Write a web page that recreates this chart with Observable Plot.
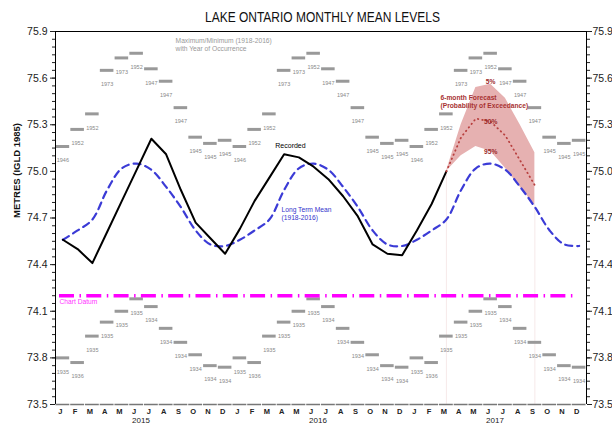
<!DOCTYPE html>
<html><head><meta charset="utf-8">
<script src="https://cdn.jsdelivr.net/npm/d3@7"></script>
<script src="https://cdn.jsdelivr.net/npm/@observablehq/plot@0.6"></script>
<style>body{margin:0;background:#fff} svg{display:block}</style>
</head><body><div id="chart"></div>
<script>
const titleText = "LAKE ONTARIO MONTHLY MEAN LEVELS";
const monthLetters = ["J","F","M","A","M","J","J","A","S","O","N","D"];
const years = ["2015","2016","2017"];
const maxLevel = [75.16, 75.27, 75.37, 75.65, 75.73, 75.76, 75.66, 75.58, 75.41, 75.22, 75.18, 75.20];
const maxYear  = [1946, 1952, 1952, 1973, 1973, 1952, 1947, 1947, 1947, 1945, 1945, 1945];
const minLevel = [73.80, 73.77, 73.94, 74.03, 74.10, 74.18, 74.13, 73.99, 73.90, 73.82, 73.75, 73.74];
const minYear  = [1935, 1936, 1935, 1935, 1935, 1935, 1934, 1934, 1934, 1934, 1934, 1934];
const meanLevel = [74.56, 74.62, 74.69, 74.88, 75.02, 75.05, 75.01, 74.90, 74.77, 74.62, 74.53, 74.52];
const recorded = [74.56, 74.50, 74.41, 74.61, 74.81, 75.01, 75.21, 75.11, 74.88, 74.67, 74.57, 74.47,
                  74.63, 74.81, 74.96, 75.11, 75.09, 75.03, 74.95, 74.84, 74.71, 74.53, 74.47, 74.46,
                  74.62, 74.79, 75.00];
const forecastUpper  = [75.00, 75.30, 75.54, 75.56, 75.47, 75.30, 75.12];
const forecastMedian = [75.00, 75.22, 75.34, 75.32, 75.23, 75.07, 74.91];
const forecastLower  = [75.00, 75.10, 75.16, 75.13, 75.02, 74.90, 74.78];
const forecastLabels = ["5%", "50%", "95%"];
const forecastStart = 26;
const chartDatum = 74.2;
const yTicks = [73.5, 73.8, 74.1, 74.4, 74.7, 75.0, 75.3, 75.6, 75.9];
const minorTicks = d3.range(0, 49).map(k => 73.5 + k * 0.05);

const idx = d3.range(36);
const climate = idx.map(i => ({i, max: maxLevel[i % 12], maxYr: String(maxYear[i % 12]),
  min: minLevel[i % 12], minYr: String(minYear[i % 12]), mean: meanLevel[i % 12]}));
const rec = recorded.map((v, i) => ({i, v}));
const fc = forecastUpper.map((u, k) => ({i: forecastStart + k, hi: u, mid: forecastMedian[k], lo: forecastLower[k]}));
const peak = fc[3];

const font = "'Liberation Sans', Arial, sans-serif";
const chart = Plot.plot({
  width: 612, height: 424,
  marginTop: 31, marginBottom: 20, marginLeft: 55, marginRight: 26,
  style: {fontFamily: font, background: "#fff", color: "#222"},
  x: {type: "linear", domain: [-0.5, 35.5]},
  y: {domain: [73.5, 75.9]},
  marks: [
    Plot.ruleX([fc[0], fc[fc.length - 1]], {x: "i", y1: 73.5, y2: "lo", stroke: "#f6e9e9", strokeWidth: 1}),
    Plot.areaY(fc, {x: "i", y1: "lo", y2: "hi", fill: "#e6b1b1"}),
    Plot.ruleY(climate, {y: "max", x1: d => d.i - 0.46, x2: d => d.i + 0.46, stroke: "#999", strokeWidth: 3}),
    Plot.text(climate, {x: "i", y: "max", text: "maxYr", dy: 14, fontSize: 5.5, fill: "#888"}),
    Plot.ruleY(climate, {y: "min", x1: d => d.i - 0.46, x2: d => d.i + 0.46, stroke: "#999", strokeWidth: 3}),
    Plot.text(climate, {x: "i", y: "min", text: "minYr", dy: 14, fontSize: 5.5, fill: "#888"}),
    Plot.ruleY([chartDatum], {x1: -0.23, x2: 34.75, stroke: "#ff00ff", strokeWidth: 3.6, strokeDasharray: "15,5.5,1.5,5.3"}),
    Plot.text(["Chart Datum"], {x: -0.23, y: chartDatum, dy: 6, textAnchor: "start", fill: "#ff33ff", fontSize: 6.7}),
    Plot.line(climate, {x: "i", y: "mean", curve: "catmull-rom", stroke: "#3b3bd6", strokeWidth: 2.2, strokeDasharray: "7,5"}),
    Plot.line(rec, {x: "i", y: "v", stroke: "#000", strokeWidth: 2}),
    Plot.line(fc, {x: "i", y: "mid", stroke: "#b8403f", strokeWidth: 1.8, strokeDasharray: "0.5,4", strokeLinecap: "round"}),
    Plot.text([forecastLabels[0]], {x: peak.i, y: peak.hi, dy: -2, fontSize: 6.7, fontWeight: "bold", fill: "#9b2a2a"}),
    Plot.text([forecastLabels[1]], {x: peak.i, y: peak.mid, dy: 0, fontSize: 6.7, fontWeight: "bold", fill: "#9b2a2a"}),
    Plot.text([forecastLabels[2]], {x: peak.i, y: peak.lo, dy: 1, fontSize: 6.7, fontWeight: "bold", fill: "#9b2a2a"}),
    Plot.text(["6-month Forecast\n(Probability of Exceedance)"], {x: 25.6, y: 75.448, textAnchor: "start", fontSize: 6.7, fontWeight: "bold", fill: "#a83232", lineHeight: 1.15}),
    Plot.text(["Recorded"], {x: 15.43, y: 75.162, fontSize: 7, fill: "#000"}),
    Plot.text(["Long Term Mean\n(1918-2016)"], {x: 14.82, y: 74.731, textAnchor: "start", fontSize: 6.7, fill: "#3333cc", lineHeight: 1.2}),
    Plot.text(["Maximum/Minimum (1918-2016)\nwith Year of Occurrence"], {x: 7.64, y: 75.817, textAnchor: "start", fontSize: 6.7, fill: "#999", lineHeight: 1.15}),
    Plot.ruleY([75.9], {stroke: "#000", strokeWidth: 1.2}),
    Plot.ruleX([-0.5, 35.5], {stroke: "#000", strokeWidth: 1}),
    Plot.ruleY(idx, {y: () => 73.5, x1: i => i - 0.47, x2: i => i + 0.47, stroke: "#777", strokeWidth: 1.5}),
    Plot.axisY(yTicks, {anchor: "left", tickSize: 5, tickPadding: 3, tickFormat: d3.format(".1f"), fontSize: 10.5, label: null}),
    Plot.axisY(minorTicks, {anchor: "left", tickSize: 3, tickFormat: () => "", label: null}),
    Plot.axisY(yTicks, {anchor: "right", tickSize: 5, tickPadding: 1, tickFormat: d3.format(".1f"), fontSize: 10.5, label: null}),
    Plot.axisY(minorTicks, {anchor: "right", tickSize: 3, tickFormat: () => "", label: null}),
    Plot.axisX(idx, {anchor: "bottom", tickSize: 0, tickPadding: 4.5, tickFormat: i => monthLetters[i % 12], fontSize: 7.5, fontWeight: "bold", dx: -2.5, label: null}),
    Plot.text(years, {x: (d, k) => 5.5 + 12 * k, frameAnchor: "bottom", lineAnchor: "middle", dy: 16, dx: -3, fontSize: 8, fill: "#222"}),
    Plot.text(["METRES (IGLD 1985)"], {frameAnchor: "left", rotate: -90, dx: -39, fontSize: 9.5, fontWeight: "bold", fill: "#111"}),
    Plot.text([titleText], {frameAnchor: "top", lineAnchor: "middle", dy: -14, dx: 1.5, fontSize: 14, fill: "#111"})
  ]
});
chart.querySelectorAll("text").forEach(t => {
  if (t.textContent === titleText) {
    t.setAttribute("textLength", 235);
    t.setAttribute("lengthAdjust", "spacingAndGlyphs");
  }
});
document.getElementById("chart").appendChild(chart);
</script>
</body></html>
